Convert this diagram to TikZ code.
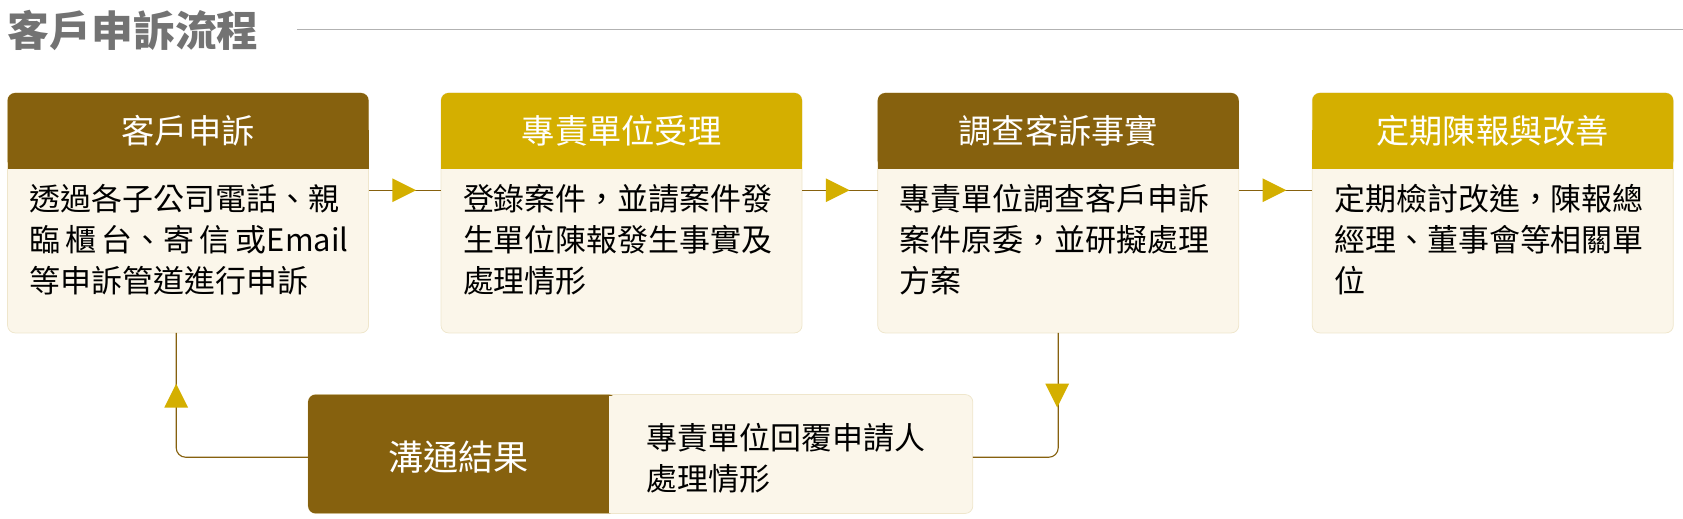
\documentclass[tikz,border=0pt]{standalone}
\usepackage{fontspec}
\setmainfont{Noto Sans CJK TC}
\usetikzlibrary{arrows.meta,positioning,calc}
\definecolor{darkgold}{HTML}{86610E}
\definecolor{brightgold}{HTML}{D4AF00}
\definecolor{cream}{HTML}{FBF6EA}
\definecolor{creamline}{HTML}{EFE6CC}
\tikzset{
  headtext/.style={text=white,font=\fontsize{17.5}{20}\selectfont},
  bodytext/.style={align=left,inner sep=0pt,font=\fontsize{16.3}{21.6}\selectfont},
  link/.style={draw=darkgold,line width=0.6pt},
  tip/.style={fill=brightgold}
}
\newcommand{\stepcard}[5]{% name, x, colour, head, body
  \draw[draw=creamline,fill=cream,rounded corners=4pt] (#2,86) rectangle (#2+334,308);
  \fill[#3,rounded corners=4pt] (#2,86) rectangle ++(334,70);
  \fill[#3] (#2,120) rectangle ++(334,36);
  \node[headtext] (#1-head) at (#2+167,121) {#4};
  \node[bodytext,anchor=north west,text width=6.3cm] (#1-body) at (#2+20,170) {#5};
  \coordinate (#1-w) at (#2,176);
  \coordinate (#1-e) at (#2+334,176);
  \coordinate (#1-s) at (#2+167,308);
}
\begin{document}
\begin{tikzpicture}[x=0.02cm,y=-0.02cm]
  \useasboundingbox (0,0) rectangle (1557,480);
  % title
  \node[anchor=west,inner sep=0pt,text=gray!90!black,font=\fontsize{22}{24}\bfseries\selectfont] (title) at (7,28) {客戶申訴流程};
  \draw[gray!60] (275,27) -- (1557,27);
  % four steps
  \stepcard{s1}{7}{darkgold}{客戶申訴}{透過各子公司電話、親\\臨\,櫃\,台、寄\,信\,或Email\\等申訴管道進行申訴}
  \stepcard{s2}{408}{brightgold}{專責單位受理}{登錄案件，並請案件發\\生單位陳報發生事實及\\處理情形}
  \stepcard{s3}{812}{darkgold}{調查客訴事實}{專責單位調查客戶申訴\\案件原委，並研擬處理\\方案}
  \stepcard{s4}{1214}{brightgold}{定期陳報與改善}{定期檢討改進，陳報總\\經理、董事會等相關單\\位}
  % arrows between steps
  \foreach \a/\b in {s1/s2,s2/s3,s3/s4}{
    \draw[link] (\a-e) -- (\b-w);
    \fill[tip] ($(\a-e)+(22,-11)$) -- ++(22,11) -- ++(-22,11) -- cycle;
  }
  % result box
  \draw[draw=creamline,fill=cream,rounded corners=4pt] (285,365) rectangle (900,475);
  \fill[darkgold,rounded corners=4pt] (285,365) rectangle (570,475);
  \fill[cream] (563,366) rectangle (575,474.5);
  \node[text=white,font=\fontsize{18.5}{21}\selectfont] (result) at (424,423) {溝通結果};
  \node[bodytext,anchor=west] (reply) at (598,424) {專責單位回覆申請人\\處理情形};
  \coordinate (res-e) at (900,423);
  \coordinate (res-w) at (285,423);
  % feedback connectors
  \draw[link,rounded corners=5pt] (s3-s) |- (res-e);
  \fill[tip] (967,355) -- (989,355) -- (978,377) -- cycle;
  \draw[link,rounded corners=5pt] (res-w) -| (163,308);
  \fill[tip] (152,377) -- (174,377) -- (163,355) -- cycle;
\end{tikzpicture}
\end{document}
